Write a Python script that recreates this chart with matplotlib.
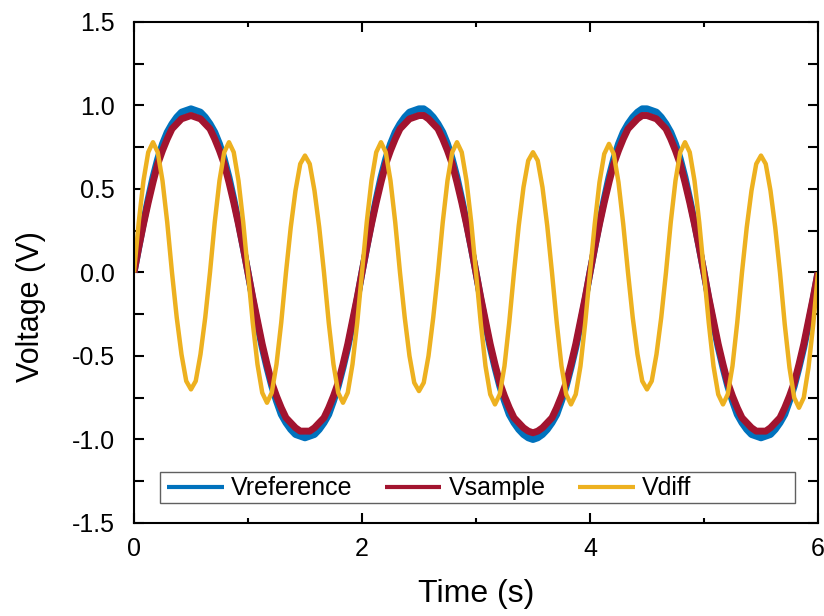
#voltage traces: reference, sample and their difference over 6 s
import matplotlib.pyplot as plt
import numpy as np
from matplotlib.patches import Rectangle
from matplotlib.ticker import FormatStrFormatter

plt.rcParams['font.family'] = ['Liberation Sans', 'DejaVu Sans']
plt.rcParams['axes.unicode_minus'] = False

#sample times, 24 samples per second
time_s = np.arange(145) / 24

#values (V)
v_reference = [
    0, 0.15, 0.30, 0.44, 0.57, 0.68, 0.77, 0.84, 0.89, 0.93, 0.96, 0.97, 0.98, 0.97, 0.96, 0.93, 0.89, 0.84, 0.77, 0.68, 0.57, 0.44, 0.30, 0.15,
    0, -0.16, -0.31, -0.45, -0.57, -0.68, -0.77, -0.85, -0.90, -0.94, -0.97, -0.98, -0.99, -0.98, -0.97, -0.94, -0.90, -0.85, -0.77, -0.68, -0.57, -0.45, -0.31, -0.16,
    0, 0.15, 0.30, 0.44, 0.57, 0.68, 0.77, 0.84, 0.89, 0.93, 0.96, 0.97, 0.98, 0.98, 0.96, 0.93, 0.89, 0.84, 0.77, 0.68, 0.57, 0.44, 0.30, 0.15,
    0, -0.16, -0.31, -0.45, -0.57, -0.68, -0.77, -0.85, -0.90, -0.94, -0.97, -0.99, -1.00, -0.99, -0.97, -0.94, -0.90, -0.85, -0.77, -0.68, -0.57, -0.45, -0.31, -0.16,
    0, 0.15, 0.30, 0.44, 0.57, 0.68, 0.77, 0.84, 0.89, 0.93, 0.96, 0.98, 0.98, 0.97, 0.96, 0.93, 0.89, 0.84, 0.77, 0.68, 0.57, 0.44, 0.30, 0.15,
    0, -0.16, -0.31, -0.45, -0.57, -0.68, -0.77, -0.85, -0.90, -0.94, -0.97, -0.98, -0.99, -0.98, -0.97, -0.94, -0.90, -0.85, -0.77, -0.68, -0.57, -0.45, -0.31, -0.16,
    0,
]
v_sample = [
    0, 0.15, 0.29, 0.42, 0.54, 0.65, 0.73, 0.80, 0.86, 0.89, 0.92, 0.93, 0.94, 0.93, 0.92, 0.89, 0.86, 0.80, 0.73, 0.65, 0.54, 0.42, 0.29, 0.15,
    0, -0.15, -0.29, -0.43, -0.55, -0.66, -0.74, -0.81, -0.87, -0.90, -0.93, -0.95, -0.95, -0.95, -0.93, -0.90, -0.87, -0.81, -0.74, -0.66, -0.55, -0.43, -0.29, -0.15,
    0, 0.15, 0.29, 0.42, 0.54, 0.65, 0.73, 0.80, 0.86, 0.89, 0.92, 0.93, 0.94, 0.94, 0.92, 0.89, 0.86, 0.80, 0.73, 0.65, 0.54, 0.42, 0.29, 0.15,
    0, -0.15, -0.29, -0.43, -0.55, -0.66, -0.74, -0.81, -0.87, -0.90, -0.93, -0.95, -0.96, -0.95, -0.93, -0.90, -0.87, -0.81, -0.74, -0.66, -0.55, -0.43, -0.29, -0.15,
    0, 0.15, 0.29, 0.42, 0.54, 0.65, 0.73, 0.80, 0.86, 0.89, 0.92, 0.94, 0.94, 0.93, 0.92, 0.89, 0.86, 0.80, 0.73, 0.65, 0.54, 0.42, 0.29, 0.15,
    0, -0.15, -0.29, -0.43, -0.55, -0.66, -0.74, -0.81, -0.87, -0.90, -0.93, -0.95, -0.95, -0.95, -0.93, -0.90, -0.87, -0.81, -0.74, -0.66, -0.55, -0.43, -0.29, -0.15,
    0,
]
v_diff = [
    0, 0.30, 0.55, 0.72, 0.78, 0.72, 0.55, 0.30,
    0, -0.27, -0.49, -0.65, -0.70, -0.65, -0.49, -0.27,
    0, 0.30, 0.55, 0.72, 0.78, 0.72, 0.55, 0.30,
    0, -0.30, -0.55, -0.72, -0.78, -0.72, -0.55, -0.30,
    0, 0.27, 0.49, 0.65, 0.70, 0.65, 0.49, 0.27,
    0, -0.30, -0.55, -0.72, -0.78, -0.72, -0.55, -0.30,
    0, 0.30, 0.55, 0.72, 0.78, 0.72, 0.55, 0.30,
    0, -0.27, -0.50, -0.66, -0.71, -0.66, -0.50, -0.27,
    0, 0.30, 0.55, 0.72, 0.78, 0.72, 0.55, 0.30,
    0, -0.30, -0.56, -0.73, -0.79, -0.73, -0.56, -0.30,
    0, 0.28, 0.51, 0.67, 0.72, 0.67, 0.51, 0.28,
    0, -0.30, -0.56, -0.73, -0.79, -0.73, -0.56, -0.30,
    0, 0.29, 0.54, 0.71, 0.77, 0.71, 0.54, 0.29,
    0, -0.27, -0.49, -0.65, -0.70, -0.65, -0.49, -0.27,
    0, 0.30, 0.55, 0.72, 0.78, 0.72, 0.55, 0.30,
    0, -0.30, -0.56, -0.73, -0.79, -0.73, -0.56, -0.30,
    0, 0.27, 0.49, 0.65, 0.70, 0.65, 0.49, 0.27,
    0, -0.31, -0.57, -0.75, -0.81, -0.75, -0.57, -0.31,
    0,
]

x_major = [0, 2, 4, 6]
x_minor = [1, 3, 5]
y_major = [-1.5, -1.0, -0.5, 0.0, 0.5, 1.0, 1.5]
y_minor = [-1.25, -0.75, -0.25, 0.25, 0.75, 1.25]

fig = plt.figure(figsize=(8.24, 6.16), dpi=100)
ax = fig.add_axes([0.1626, 0.151, 0.8301, 0.8133])

ax.plot(time_s, v_reference, color='#0072BD', lw=5, label='Vreference', solid_capstyle='butt')
ax.plot(time_s, v_sample, color='#A2142F', lw=5, label='Vsample', solid_capstyle='butt')
ax.plot(time_s, v_diff, color='#EDB120', lw=3.2, label='Vdiff', solid_capstyle='butt')

ax.set_xlim(0, 6)
ax.set_ylim(-1.5, 1.5)
ax.set_xticks(x_major)
ax.set_xticks(x_minor, minor=True)
ax.set_yticks(y_major)
ax.set_yticks(y_minor, minor=True)
ax.yaxis.set_major_formatter(FormatStrFormatter('%.1f'))

ax.tick_params(which='both', direction='in', top=True, right=True, width=1.5, labelsize=18)
ax.tick_params(axis='x', which='major', length=7, pad=10)
ax.tick_params(axis='x', which='minor', length=3.5)
ax.tick_params(axis='y', which='both', length=7, pad=14)
for s in ax.spines.values():
    s.set_linewidth(1.5)

ax.set_xlabel('Time (s)', fontsize=23, labelpad=13)
ax.set_ylabel('Voltage (V)', fontsize=22)
ax.yaxis.set_label_coords(-0.128, 0.431)

#legend box spans most of the width, entries sit on the left
ax.add_patch(Rectangle((0.038, 0.040), 0.928, 0.062, transform=ax.transAxes,
                       facecolor='white', edgecolor='#606060', lw=1, zorder=4))
leg = ax.legend(ncol=3, frameon=False, loc='center left', bbox_to_anchor=(0.049, 0.069),
                fontsize=18, borderpad=0, borderaxespad=0, handlelength=2.25,
                handletextpad=0.3, columnspacing=1.3)
leg.set_zorder(5)
for line in leg.get_lines():
    line.set_linewidth(3)

plt.savefig('out.png', dpi=100)
